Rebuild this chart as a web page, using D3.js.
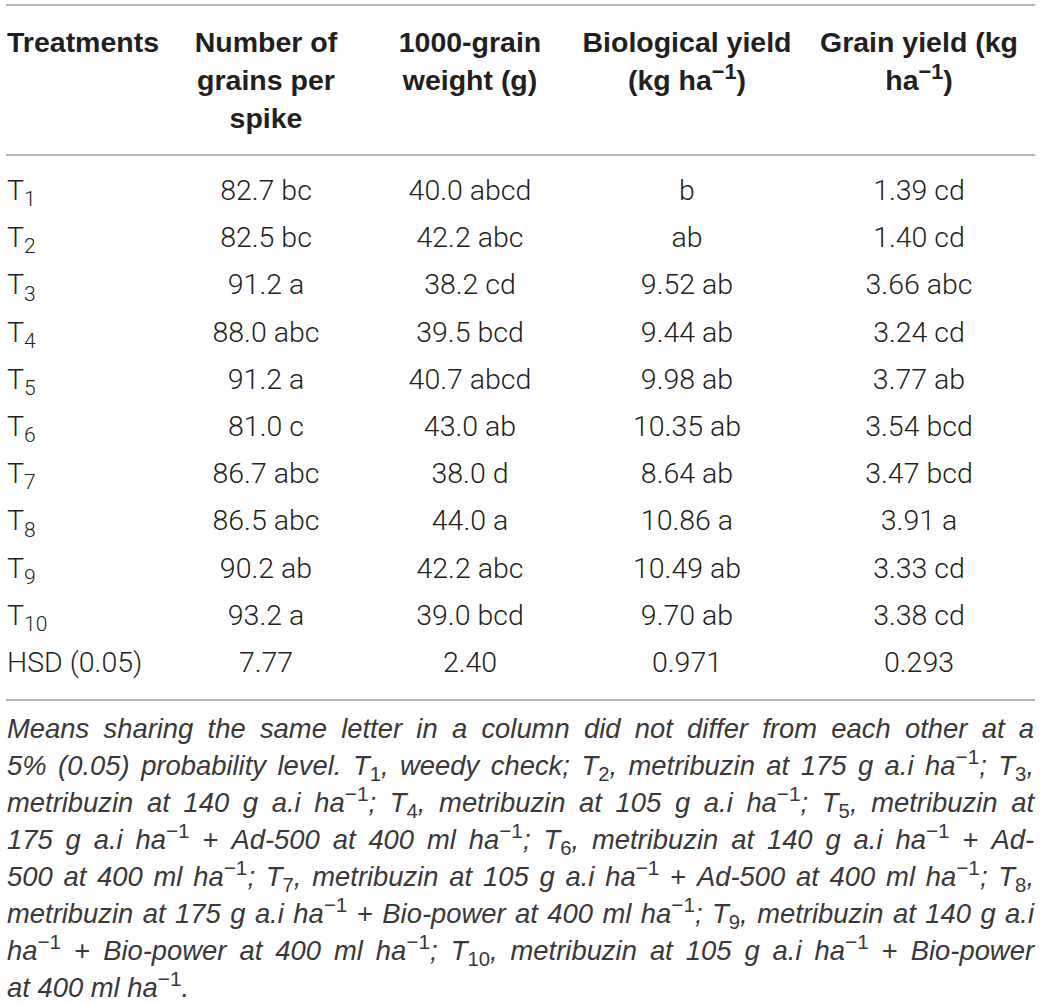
<!DOCTYPE html>
<html>
<head>
<meta charset="utf-8">
<script src="https://cdn.jsdelivr.net/npm/d3@7"></script>
<style>
  html, body { margin: 0; padding: 0; background: #fff; }
  svg { display: block; }
</style>
</head>
<body>
<svg id="chart" width="1041" height="1005"></svg>
<script>
// ---------------- DATA ----------------
const treatments = ["1", "2", "3", "4", "5", "6", "7", "8", "9", "10"];
const grainsPerSpike = [82.7, 82.5, 91.2, 88.0, 91.2, 81.0, 86.7, 86.5, 90.2, 93.2];
const grainsLetters  = ["bc", "bc", "a", "abc", "a", "c", "abc", "abc", "ab", "a"];
const grainWeight    = [40.0, 42.2, 38.2, 39.5, 40.7, 43.0, 38.0, 44.0, 42.2, 39.0];
const weightLetters  = ["abcd", "abc", "cd", "bcd", "abcd", "ab", "d", "a", "abc", "bcd"];
const bioYield       = [null, null, 9.52, 9.44, 9.98, 10.35, 8.64, 10.86, 10.49, 9.70];
const bioLetters     = ["b", "ab", "ab", "ab", "ab", "ab", "ab", "a", "ab", "ab"];
const grainYield     = [1.39, 1.40, 3.66, 3.24, 3.77, 3.54, 3.47, 3.91, 3.33, 3.38];
const grainYieldLetters = ["cd", "cd", "abc", "cd", "ab", "bcd", "bcd", "a", "cd", "cd"];
const hsdLabel = "HSD (0.05)";
const hsdValues = [7.77, 2.40, 0.971, 0.293];
const hsdFormats = [".2f", ".2f", ".3f", ".3f"];
const valueFormats = [".1f", ".1f", ".2f", ".2f"];

const columnKeys = ["grains", "weight", "bio", "gyield"];
const headerLines = [
  ["Number of", "grains per", "spike"],
  ["1000-grain", "weight (g)"],
  ["Biological yield", "(kg ha{sup:−1})"],
  ["Grain yield (kg", "ha{sup:−1})"]
];
const firstHeader = "Treatments";

const footnoteLines = [
  "Means sharing the same letter in a column did not differ from each other at a",
  "5% (0.05) probability level. T{sub:1}, weedy check; T{sub:2}, metribuzin at 175 g a.i ha{sup:−1}; T{sub:3},",
  "metribuzin at 140 g a.i ha{sup:−1}; T{sub:4}, metribuzin at 105 g a.i ha{sup:−1}; T{sub:5}, metribuzin at",
  "175 g a.i ha{sup:−1} {n:+} Ad-500 at 400 ml ha{sup:−1}; T{sub:6}, metribuzin at 140 g a.i ha{sup:−1} {n:+} Ad-",
  "500 at 400 ml ha{sup:−1}; T{sub:7}, metribuzin at 105 g a.i ha{sup:−1} {n:+} Ad-500 at 400 ml ha{sup:−1}; T{sub:8},",
  "metribuzin at 175 g a.i ha{sup:−1} {n:+} Bio-power at 400 ml ha{sup:−1}; T{sub:9}, metribuzin at 140 g a.i",
  "ha{sup:−1} {n:+} Bio-power at 400 ml ha{sup:−1}; T{sub:10}, metribuzin at 105 g a.i ha{sup:−1} {n:+} Bio-power",
  "at 400 ml ha{sup:−1}."
];

// ---------------- LAYOUT ----------------
const left = 7, right = 1034;
const textColor = "#231f20";
const ruleColor = "#9a9a9a";
const headFont = "'Liberation Sans', Arial, sans-serif";
const bodyFont = "Roboto, 'Liberation Sans', sans-serif";
const noteFont = "'Liberation Sans', Arial, sans-serif";
const headSize = 28.5, bodySize = 28.5, noteSize = 27.4;

const svg = d3.select("#chart");

// column x scale (centres of value columns)
const colX = d3.scaleOrdinal().domain(columnKeys).range([266, 470, 687, 919]);
// row y scale (baselines)
const rowKeys = treatments.concat(["HSD"]);
const rowY = d3.scalePoint().domain(rowKeys).range([200, 672]);

// rules
const rules = [5, 155, 700];
svg.selectAll("line.rule").data(rules).join("line")
  .attr("class", "rule")
  .attr("x1", 6).attr("x2", 1035)
  .attr("y1", d => d).attr("y2", d => d)
  .attr("stroke", ruleColor).attr("stroke-width", 1.4);

// rich-text parser
const re = /\{(sub|sup|n):([^}]*)\}/g;
function parse(str, baseKind) {
  const segs = []; let last = 0;
  for (const m of str.matchAll(re)) {
    if (m.index > last) segs.push({ k: baseKind, t: str.slice(last, m.index) });
    segs.push({ k: m[1], t: m[2] });
    last = m.index + m[0].length;
  }
  if (last < str.length) segs.push({ k: baseKind, t: str.slice(last) });
  return segs;
}
function fillRich(textSel, str, opts) {
  const segs = parse(str, "base");
  let cur = 0;
  segs.forEach(s => {
    const ts = textSel.append("tspan").text(s.t);
    let target = 0, size = opts.size;
    if (s.k === "sub") { target = opts.size * 0.22; size = opts.size * 0.74; }
    if (s.k === "sup") { target = -opts.size * 0.40; size = opts.size * 0.76; }
    const dy = target - cur;
    if (dy !== 0) ts.attr("dy", dy);
    cur = target;
    ts.attr("font-size", size);
    if (opts.italic && (s.k === "base")) ts.attr("font-style", "italic");
    else ts.attr("font-style", "normal");
  });
}

// header
svg.append("text")
  .attr("x", left).attr("y", 52)
  .attr("font-family", headFont).attr("font-weight", "bold")
  .attr("font-size", headSize).attr("fill", textColor)
  .text(firstHeader);

const headerBaselines = d3.scaleLinear().domain([0, 1]).range([52, 90]);
columnKeys.forEach((key, ci) => {
  headerLines[ci].forEach((line, li) => {
    const t = svg.append("text")
      .attr("x", colX(key)).attr("y", headerBaselines(li))
      .attr("text-anchor", "middle")
      .attr("font-family", headFont).attr("font-weight", "bold")
      .attr("font-size", headSize).attr("fill", textColor);
    fillRich(t, line, { size: headSize, italic: false });
  });
});

// body rows
const cols = [
  { key: "grains", vals: grainsPerSpike, letters: grainsLetters },
  { key: "weight", vals: grainWeight, letters: weightLetters },
  { key: "bio", vals: bioYield, letters: bioLetters },
  { key: "gyield", vals: grainYield, letters: grainYieldLetters }
];

treatments.forEach((tr, i) => {
  const y = rowY(tr);
  const t = svg.append("text")
    .attr("x", left).attr("y", y)
    .attr("font-family", bodyFont).attr("font-weight", 300)
    .attr("font-size", bodySize).attr("fill", textColor);
  fillRich(t, "T{sub:" + tr + "}", { size: bodySize, italic: false });
  cols.forEach((c, ci) => {
    const v = c.vals[i];
    const txt = (v == null ? "" : d3.format(valueFormats[ci])(v) + " ") + c.letters[i];
    svg.append("text")
      .attr("x", colX(c.key)).attr("y", y)
      .attr("text-anchor", "middle")
      .attr("font-family", bodyFont).attr("font-weight", 300)
      .attr("font-size", bodySize).attr("fill", textColor)
      .text(txt);
  });
});

// HSD row
svg.append("text")
  .attr("x", left).attr("y", rowY("HSD"))
  .attr("font-family", bodyFont).attr("font-weight", 300)
  .attr("font-size", bodySize).attr("fill", textColor)
  .text(hsdLabel);
cols.forEach((c, ci) => {
  svg.append("text")
    .attr("x", colX(c.key)).attr("y", rowY("HSD"))
    .attr("text-anchor", "middle")
    .attr("font-family", bodyFont).attr("font-weight", 300)
    .attr("font-size", bodySize).attr("fill", textColor)
    .text(d3.format(hsdFormats[ci])(hsdValues[ci]));
});

// footnote (justified)
const noteY = d3.scaleLinear().domain([0, 1]).range([738, 775]);
const noteG = svg.append("g")
  .attr("font-family", noteFont).attr("font-weight", "normal")
  .attr("font-size", noteSize).attr("fill", "#3a3839");

// measure a space
const sp = noteG.append("text").attr("font-style", "italic").text("a a");
const sp2 = noteG.append("text").attr("font-style", "italic").text("aa");
const spaceW = sp.node().getComputedTextLength() - sp2.node().getComputedTextLength();
sp.remove(); sp2.remove();

footnoteLines.forEach((line, li) => {
  const y = noteY(li);
  const words = line.split(" ");
  const nodes = words.map(w => {
    const t = noteG.append("text").attr("y", y);
    fillRich(t, w, { size: noteSize, italic: true });
    return t;
  });
  const widths = nodes.map(t => t.node().getComputedTextLength());
  const total = d3.sum(widths);
  const justify = li < footnoteLines.length - 1;
  const gap = justify && words.length > 1 ? (right - left - total) / (words.length - 1) : spaceW;
  let x = left;
  nodes.forEach((t, k) => {
    t.attr("x", x);
    x += widths[k] + gap;
  });
});
</script>
</body>
</html>
